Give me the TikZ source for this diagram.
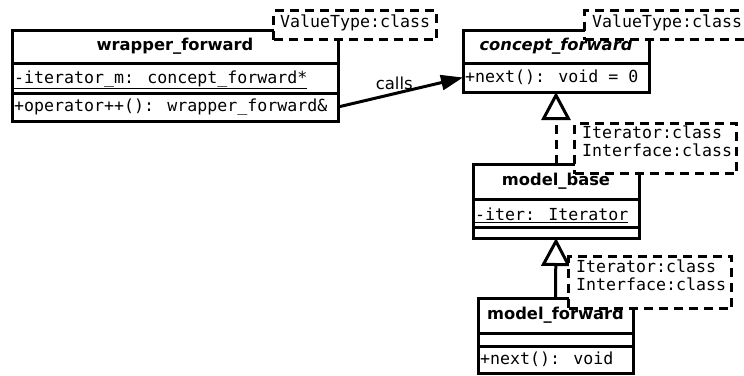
\documentclass[tikz,border=0pt]{standalone}
\usepackage{fontspec}
\setmainfont{DejaVu Sans}
\newfontfamily\monof{DejaVu Sans Mono}
\usetikzlibrary{arrows.meta}
\tikzset{
  lw/.style={line width=3pt},
  comp/.style={draw, lw, fill=white, anchor=north west, inner sep=0pt, outer sep=0pt},
  ttl/.style={font=\fontsize{16.3}{18}\selectfont\bfseries},
  mtxt/.style={anchor=west, inner sep=0pt, font=\monof\fontsize{16.6}{18}\selectfont},
  note/.style={draw, lw, fill=white, dash pattern=on 9pt off 6pt, anchor=north west, inner sep=0pt},
  notetxt/.style={anchor=north west, inner sep=0pt, align=left, font=\monof\fontsize{16.6}{18}\selectfont},
  inherit/.style={lw, -{Triangle[open, length=28pt, width=29pt, fill=white, line width=3pt]}},
  callarrow/.style={lw, -{Triangle[length=22pt, width=15pt]}},
}
\begin{document}
\begin{tikzpicture}[x=1pt, y=-1pt]
\useasboundingbox (0,0) rectangle (744,375);
\clip (0,0) rectangle (744,375);
% wrapper_forward
\node[comp, minimum width=326pt, minimum height=33pt] (wft) at (12,30) {};
\node[comp, minimum width=326pt, minimum height=30pt] (wfa) at (12,63) {};
\node[comp, minimum width=326pt, minimum height=28pt] (wfo) at (12,93) {};
\node[ttl] (wftl) at (wft.center) {wrapper\_forward};
\node[mtxt] (wfal) at (14,80) {\underline{-iterator\_m: concept\_forward*}};
\node[mtxt] (wfol) at (14,107) {+operator++(): wrapper\_forward\&};
% concept_forward
\node[comp, minimum width=186pt, minimum height=33pt] (cft) at (463,30) {};
\node[comp, minimum width=186pt, minimum height=29pt] (cfo) at (463,63) {};
\node[ttl, font=\fontsize{16.3}{18}\selectfont\bfseries\itshape] (cftl) at (cft.center) {concept\_forward};
\node[mtxt] (cfol) at (465,77.5) {+next(): void = 0};
% model_base
\node[comp, minimum width=166pt, minimum height=35pt] (mbt) at (473,164) {};
\node[comp, minimum width=166pt, minimum height=28pt] (mba) at (473,199) {};
\node[comp, minimum width=166pt, minimum height=11pt] (mbo) at (473,227) {};
\node[ttl] (mbtl) at (mbt.center) {model\_base};
\node[mtxt] (mbal) at (475,215) {\underline{-iter: Iterator}};
% model_forward
\node[comp, minimum width=155pt, minimum height=35pt] (mft) at (478,298) {};
\node[comp, minimum width=155pt, minimum height=13pt] (mfa) at (478,333) {};
\node[comp, minimum width=155pt, minimum height=27pt] (mfo) at (478,346) {};
\node[ttl] (mftl) at (mft.center) {model\_forward};
\node[mtxt] (mfol) at (480,359.5) {+next(): void};
% connectors
\draw[callarrow] (wfo.east) -- node[pos=0.45, above, yshift=-1pt, font=\fontsize{16.5}{18}\selectfont] (callslbl) {calls} (cfo.west);
\draw[inherit, dash pattern=on 9pt off 6pt] (mbt.north) -- (cfo.south);
\draw[inherit] (mft.north) -- (mbo.south);
% notes
\node[note, minimum width=163pt, minimum height=29pt] (n1) at (272,9) {};
\node[mtxt] (n1t) at (280,23) {ValueType:class};
\node[note, minimum width=190pt, minimum height=29pt] (n2) at (583,9) {};
\node[mtxt] (n2t) at (592,23) {ValueType:class};
\node[note, minimum width=162pt, minimum height=50pt] (n3) at (573,122) {};
\node[notetxt] (n3t) at (582,126) {Iterator:class\\Interface:class};
\node[note, minimum width=163pt, minimum height=52pt] (n4) at (567,255) {};
\node[notetxt] (n4t) at (576,260) {Iterator:class\\Interface:class};
\end{tikzpicture}
\end{document}
